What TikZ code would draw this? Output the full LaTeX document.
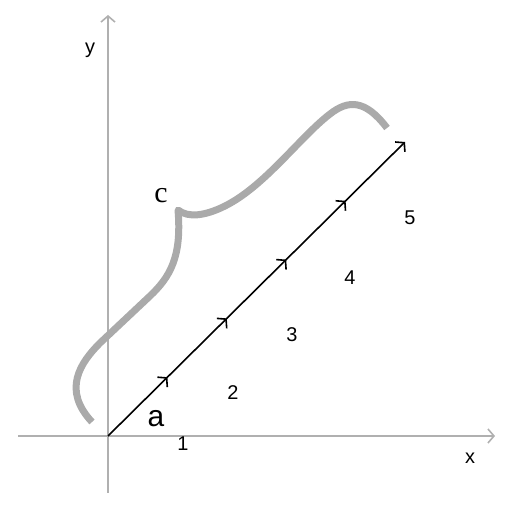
\documentclass[tikz,border=0pt]{standalone}
\usepackage{fontspec}
\setmainfont{Liberation Sans}
\newfontfamily\bracefont{Liberation Serif}
\usetikzlibrary{arrows.meta,decorations.markings}
\definecolor{axisgray}{HTML}{B0B0B0}
\definecolor{bracegray}{HTML}{AAAAAA}
\newcommand{\numfont}{\fontsize{20pt}{22pt}\selectfont}
\newcommand{\bigfont}{\fontsize{30pt}{32pt}\selectfont}
\tikzset{
  barb/.tip={Straight Barb[length=6bp,width=14bp,line width=1.6bp]},
  axis/.style={axisgray,line width=1.6bp,-barb},
  vec/.style={black,line width=1.6bp,-barb,
    postaction={decorate},
    decoration={markings,
      mark=at position 0.2 with {\arrow{barb}},
      mark=at position 0.4 with {\arrow{barb}},
      mark=at position 0.6 with {\arrow{barb}},
      mark=at position 0.8 with {\arrow{barb}}}},
  lbl/.style={draw=none,inner sep=0pt,font=\numfont},
}
\begin{document}
\begin{tikzpicture}[line join=round]
\useasboundingbox (0bp,0bp) rectangle (512bp,512bp);
%%
\coordinate (x_start) at (18bp,76bp);
  \coordinate (x_end) at (495bp,76bp);
  \coordinate (y_start) at (108bp,19bp);
  \coordinate (y_end) at (108bp,497bp);
  \coordinate (origin) at (108bp,76bp);
  \coordinate (vec_end) at (405bp,370bp);
  \draw [axis] (x_start) -- (x_end);
  \draw [axis] (y_start) -- (y_end);
  \draw [vec] (origin) -- (vec_end);
%
\node (label_x) at (470bp,54bp) [lbl] {x};
  \node (label_y) at (90bp,462bp) [lbl] {y};
  \node (label_a) at (156bp,93bp) [lbl,font=\bigfont] {a};
  \node (label_c) at (161bp,316bp) [lbl,font=\bracefont\bigfont] {c};
  \node (num_1) at (183bp,68bp) [lbl] {1};
  \node (num_2) at (233bp,119bp) [lbl] {2};
  \node (num_3) at (292bp,177bp) [lbl] {3};
  \node (num_4) at (350bp,234bp) [lbl] {4};
  \node (num_5) at (410bp,294bp) [lbl] {5};
%
\draw [bracegray,line width=7bp] (92bp,90bp) ..controls (62bp,122bp) and (80bp,149bp)  .. (100bp,169bp)
  -- (150bp,216bp) ..controls (170bp,235bp) and (182bp,255bp)  .. (178bp,302bp)
  ..controls (188bp,294bp) and (205bp,296bp)  .. (225bp,306bp)
  ..controls (265bp,326bp) and (300bp,375bp)  .. (330bp,398bp)
  ..controls (348bp,412bp) and (365bp,413bp)  .. (387bp,384bp);
%
\end{tikzpicture}
\end{document}
